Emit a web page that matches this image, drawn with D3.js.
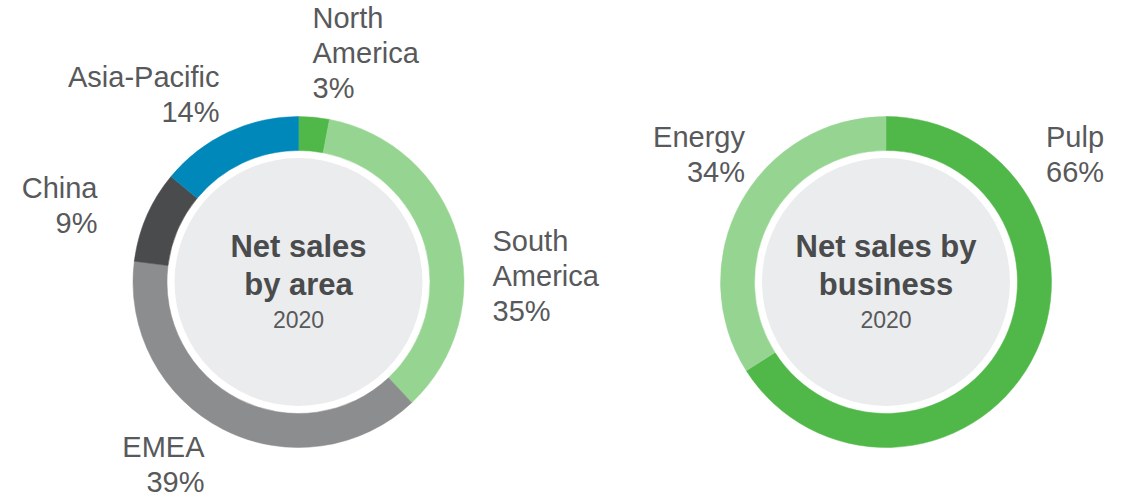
<!DOCTYPE html>
<html>
<head>
<meta charset="utf-8">
<script src="https://cdn.jsdelivr.net/npm/d3@7"></script>
<style>
    body { margin: 0; background: #ffffff; }
    svg { display: block; }
    svg text { font-family: Arial, "Liberation Sans", Helvetica, sans-serif; }
</style>
</head>
<body>
<svg id="chart" width="1125" height="496"></svg>
<script>
"use strict";

// net sales by area, 2020 (%)
const areaNames = ["North America", "South America", "EMEA", "China", "Asia-Pacific"];
const areaValues = [3, 35, 39, 9, 14];
const areaColors = ["#50b848", "#96d591", "#8c8d8f", "#4a4b4d", "#0088bb"];

// net sales by business, 2020 (%)
const businessNames = ["Pulp", "Energy"];
const businessValues = [66, 34];
const businessColors = ["#50b848", "#96d591"];

const yearLabel = "2020";

// label placement relative to donut centre: [dx, dy of first baseline, anchor, lines]
const areaLabelPos = {
    "North America": [14, -254, "start", ["North", "America"]],
    "South America": [194, -31, "start", ["South", "America"]],
    "EMEA": [-94, 175, "end", ["EMEA"]],
    "China": [-201, -84, "end", ["China"]],
    "Asia-Pacific": [-79, -195, "end", ["Asia-Pacific"]]
};
const businessLabelPos = {
    "Pulp": [160, -135, "start", ["Pulp"]],
    "Energy": [-141, -135, "end", ["Energy"]]
};

const outerR = 165.5;
const innerR = 131.5;
const centreR = 124;
const lineH = 35;

let svg = d3.select("#chart");

function drawDonut(cx, cy, names, values, colors, labelPos, titleLines) {
    let g = svg.append("g").attr("transform", `translate(${cx},${cy})`);

    let pie = d3.pie().sort(null).value(d => d.value);
    let arc = d3.arc().innerRadius(innerR).outerRadius(outerR);
    let data = names.map((n, i) => ({ name: n, value: values[i], color: colors[i] }));

    g.selectAll("path.slice")
        .data(pie(data))
        .enter().append("path")
        .attr("class", "slice")
        .attr("d", arc)
        .style("fill", d => d.data.color)
        .style("stroke", d => d.data.color)
        .style("stroke-width", 0.5);

    g.append("circle")
        .attr("r", centreR)
        .style("fill", "#ebecee");

    // outside labels
    data.forEach(function(d) {
        let p = labelPos[d.name];
        let t = g.append("text")
            .attr("text-anchor", p[2])
            .style("font-size", "29px")
            .style("fill", "#58595b");
        let lines = p[3].concat([d.value + "%"]);
        lines.forEach(function(line, i) {
            t.append("tspan")
                .attr("x", p[0])
                .attr("y", p[1] + i * lineH)
                .text(line);
        });
    });

    // centre title
    let title = g.append("text")
        .attr("text-anchor", "middle")
        .style("fill", "#4a4b4d");
    titleLines.forEach(function(line, i) {
        title.append("tspan")
            .attr("x", 0)
            .attr("y", -25 + i * 38)
            .style("font-size", "31px")
            .style("font-weight", "bold")
            .text(line);
    });
    title.append("tspan")
        .attr("x", 0)
        .attr("y", 46)
        .style("font-size", "23px")
        .style("fill", "#58595b")
        .text(yearLabel);
}

drawDonut(298.5, 282, areaNames, areaValues, areaColors, areaLabelPos, ["Net sales", "by area"]);
drawDonut(886, 282, businessNames, businessValues, businessColors, businessLabelPos, ["Net sales by", "business"]);
</script>
</body>
</html>
